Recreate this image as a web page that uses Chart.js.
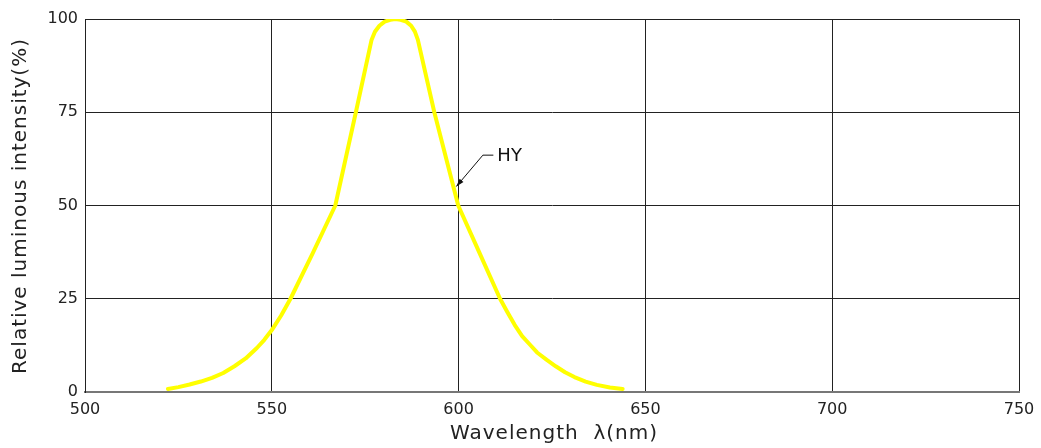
<!DOCTYPE html>
<html>
<head>
<meta charset="utf-8">
<script src="https://cdn.jsdelivr.net/npm/chart.js@4"></script>
<style>
  html, body { margin: 0; padding: 0; background: #fff; }
  #wrap { width: 1041px; height: 448px; }
</style>
</head>
<body>
<div id="wrap"><canvas id="chart" width="1041" height="448"></canvas></div>
<script>
  // spectrum
  const wavelength = [522.2, 525, 528, 531, 534, 537, 540, 543, 546, 548, 550, 552.5, 555, 561, 567, 572.5,
    576.7, 577.6, 578.8, 580.2, 581.7, 583.1, 584.5, 586, 587.3, 588.3, 589.1,
    593.5, 599.9, 605.5, 611.1, 613, 615, 617, 619, 621, 623.6, 626, 628.5, 631, 634, 637, 640.5, 643.9];
  const intensity = [0.8, 1.3, 2.0, 2.8, 3.8, 5.1, 6.9, 9.0, 11.8, 14.0, 16.6, 20.5, 25, 37.3, 50, 75,
    94.4, 96.6, 98.2, 99.3, 99.8, 100, 99.8, 99.3, 98.2, 96.6, 94.4,
    75, 50, 37.5, 25, 21.5, 18, 15, 12.8, 10.6, 8.6, 6.9, 5.3, 4.0, 2.8, 1.9, 1.2, 0.8];

  const xTicks = [500, 550, 600, 650, 700, 750];
  const yTicks = [0, 25, 50, 75, 100];

  const seriesLabel = "HY";
  const xTitle = "Wavelength  \u03bb(nm)";
  const yTitle = "Relative luminous intensity(%)";

  // label leader: tip on the curve, elbow, end of the horizontal stroke (data units)
  const labelTip = [599.4, 55.1];
  const labelElbow = [606.5, 63.5];
  const labelEnd = [609.3, 63.5];

  const FONT = "'DejaVu Sans', sans-serif";
  const INK = "#222";

  const overlay = {
    id: "overlay",
    afterDraw(chart) {
      const { ctx, scales } = chart;
      const sx = scales.x, sy = scales.y;
      ctx.save();
      ctx.fillStyle = INK;
      ctx.font = "20px " + FONT;
      if ("letterSpacing" in ctx) ctx.letterSpacing = "1px";
      ctx.textAlign = "center";
      ctx.textBaseline = "middle";
      ctx.fillText(xTitle, 554, 434);
      ctx.translate(21, 206);
      ctx.rotate(-Math.PI / 2);
      ctx.fillText(yTitle, 0, 0);
      ctx.restore();

      // leader line + arrow
      const tx = sx.getPixelForValue(labelTip[0]), ty = sy.getPixelForValue(labelTip[1]);
      const ex = sx.getPixelForValue(labelElbow[0]), ey = sy.getPixelForValue(labelElbow[1]);
      const hx = sx.getPixelForValue(labelEnd[0]);
      ctx.save();
      ctx.strokeStyle = "#111";
      ctx.fillStyle = "#111";
      ctx.lineWidth = 1;
      ctx.beginPath();
      ctx.moveTo(hx, ey);
      ctx.lineTo(ex, ey);
      ctx.lineTo(tx, ty);
      ctx.stroke();
      const a = Math.atan2(ty - ey, tx - ex);
      const len = 8, w = 2.5;
      ctx.beginPath();
      ctx.moveTo(tx, ty);
      ctx.lineTo(tx - len * Math.cos(a) + w * Math.sin(a), ty - len * Math.sin(a) - w * Math.cos(a));
      ctx.lineTo(tx - len * Math.cos(a) - w * Math.sin(a), ty - len * Math.sin(a) + w * Math.cos(a));
      ctx.closePath();
      ctx.fill();
      ctx.font = "18px " + FONT;
      ctx.textAlign = "left";
      ctx.textBaseline = "middle";
      ctx.fillText(seriesLabel, hx + 4, ey + 1);
      ctx.restore();
    },
  };

  new Chart(document.getElementById("chart"), {
    type: "line",
    data: {
      datasets: [
        {
          label: seriesLabel,
          data: wavelength.map((w, i) => ({ x: w, y: intensity[i] })),
          borderColor: "#ffff00",
          borderWidth: 4,
          borderJoinStyle: "round",
          borderCapStyle: "round",
          pointRadius: 0,
          fill: false,
          tension: 0,
        },
      ],
    },
    options: {
      responsive: false,
      animation: false,
      layout: { padding: { top: 19, right: 22, left: 0, bottom: 0 } },
      plugins: { legend: { display: false }, tooltip: { enabled: false } },
      scales: {
        x: {
          type: "linear",
          min: xTicks[0],
          max: xTicks[xTicks.length - 1],
          afterBuildTicks: (s) => { s.ticks = xTicks.map((v) => ({ value: v })); },
          afterFit: (s) => { s.height = 56; s.paddingLeft = 0; s.paddingRight = 0; },
          grid: { color: "#222", lineWidth: 1, drawTicks: false },
          border: { color: "#777", width: 2 },
          ticks: { color: INK, font: { family: FONT, size: 16 }, padding: 8, maxRotation: 0 },
        },
        y: {
          min: yTicks[0],
          max: yTicks[yTicks.length - 1],
          afterBuildTicks: (s) => { s.ticks = yTicks.map((v) => ({ value: v })); },
          afterFit: (s) => { s.width = 85; s.paddingTop = 0; s.paddingBottom = 0; },
          grid: { color: "#222", lineWidth: 1, drawTicks: false },
          border: { color: "#222", width: 1 },
          ticks: { color: INK, font: { family: FONT, size: 16 }, padding: 7 },
        },
      },
    },
    plugins: [overlay],
  });
</script>
</body>
</html>
